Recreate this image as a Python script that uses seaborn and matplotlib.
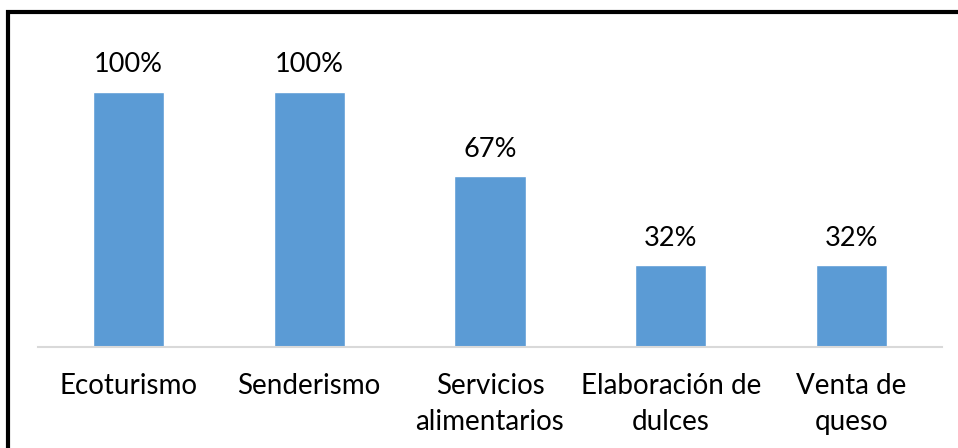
import pandas as pd
import numpy as np
import seaborn as sns
import matplotlib.pyplot as plt
from matplotlib.patches import Rectangle

# datos del grafico
categorias = ["Ecoturismo", "Senderismo", "Servicios\nalimentarios",
              "Elaboración de\ndulces", "Venta de\nqueso"]
porcentajes = [100, 100, 67, 32, 32]

df = pd.DataFrame({"actividad": categorias, "pct": porcentajes})

sns.set_style("white")
plt.rcParams['font.family'] = ['Lato', 'DejaVu Sans']

fig = plt.figure(figsize=(9.58, 4.48), dpi=100)
ax = fig.add_axes([38 / 958, 101 / 448, 904 / 958, 306 / 448])

sns.barplot(data=df, x="actividad", y="pct", color="#5B9BD5",
            width=0.394, saturation=1, ax=ax)
ax.set_xlim(-0.5, 4.5)
ax.set_ylim(0, 120)

for c in ax.containers:
    ax.bar_label(c, labels=[f"{v:.0f}%" for v in porcentajes],
                 padding=10.5, fontsize=19.5, color="#000000")

ax.set_xlabel("")
ax.set_ylabel("")
ax.set_yticks([])
ax.tick_params(axis="x", length=0, pad=19, labelsize=20, labelcolor="#000000")
for lbl in ax.get_xticklabels():
    lbl.set_linespacing(1.45)
for s in ["top", "right", "left"]:
    ax.spines[s].set_visible(False)
ax.spines["bottom"].set_color("#D9D9D9")
ax.spines["bottom"].set_linewidth(1.5)

# marco negro del grafico
fig.patches.append(Rectangle((8 / 958, -0.1), 1.2, (448 - 8) / 448 + 0.1 - 4 / 448,
                             transform=fig.transFigure, fill=False,
                             edgecolor="black", linewidth=3))

fig.savefig("out.png", dpi=100)
